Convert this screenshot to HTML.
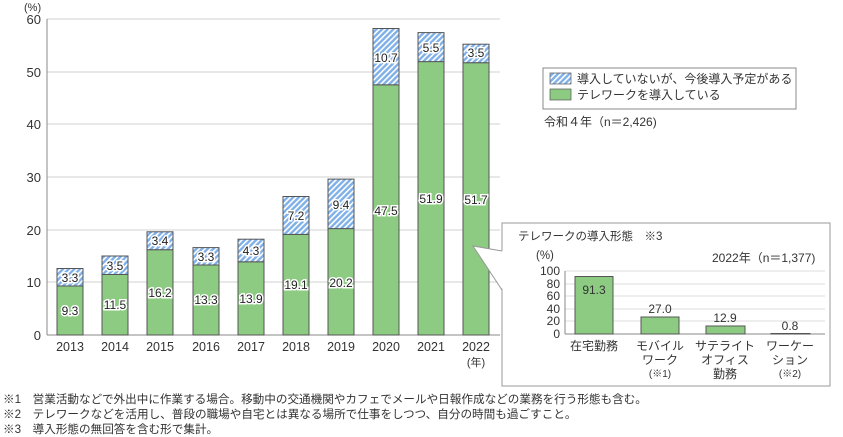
<!DOCTYPE html><html><head><meta charset="utf-8"><style>
body{margin:0;background:#fff}
svg{display:block;font-family:"Liberation Sans","Noto Sans CJK JP",sans-serif}
</style></head><body>
<svg width="843" height="437" viewBox="0 0 843 437" xmlns="http://www.w3.org/2000/svg">
<defs><pattern id="h" width="4" height="4" patternUnits="userSpaceOnUse" patternTransform="rotate(45)"><rect width="4" height="4" fill="#7fb0e8"/><rect width="1.6" height="4" fill="#fff"/></pattern></defs>
<g stroke="#d0d0d0" stroke-width="1">
<line x1="47" y1="19" x2="500" y2="19"/><line x1="47" y1="72" x2="500" y2="72"/><line x1="47" y1="124" x2="500" y2="124"/><line x1="47" y1="177" x2="500" y2="177"/><line x1="47" y1="230" x2="500" y2="230"/><line x1="47" y1="282" x2="500" y2="282"/>
</g>
<line x1="47" y1="19" x2="47" y2="335" stroke="#888"/>
<line x1="47" y1="335" x2="500" y2="335" stroke="#888"/>
<g font-size="13" fill="#333" text-anchor="end">
<text x="41" y="24">60</text><text x="41" y="77">50</text><text x="41" y="129">40</text><text x="41" y="182">30</text><text x="41" y="235">20</text><text x="41" y="287">10</text><text x="41" y="340">0</text></g>
<text x="24" y="11" font-size="11" fill="#333">(%)</text>
<g stroke="#555" stroke-width="1">
<rect x="57" y="286" width="26" height="49" fill="#8dcb83"/><rect x="57" y="268.5" width="26" height="17.5" fill="url(#h)"/>
<rect x="102" y="274.5" width="26" height="60.5" fill="#8dcb83"/><rect x="102" y="256" width="26" height="18.5" fill="url(#h)"/>
<rect x="147" y="249.7" width="26" height="85.3" fill="#8dcb83"/><rect x="147" y="231.8" width="26" height="17.9" fill="url(#h)"/>
<rect x="193" y="265" width="26" height="70" fill="#8dcb83"/><rect x="193" y="247.6" width="26" height="17.4" fill="url(#h)"/>
<rect x="238" y="261.8" width="26" height="73.2" fill="#8dcb83"/><rect x="238" y="239.2" width="26" height="22.6" fill="url(#h)"/>
<rect x="283" y="234.4" width="26" height="100.6" fill="#8dcb83"/><rect x="283" y="196.5" width="26" height="37.9" fill="url(#h)"/>
<rect x="328" y="228.6" width="26" height="106.4" fill="#8dcb83"/><rect x="328" y="179.1" width="26" height="49.5" fill="url(#h)"/>
<rect x="373" y="84.8" width="26" height="250.2" fill="#8dcb83"/><rect x="373" y="28.5" width="26" height="56.3" fill="url(#h)"/>
<rect x="418" y="61.6" width="26" height="273.4" fill="#8dcb83"/><rect x="418" y="32.6" width="26" height="29" fill="url(#h)"/>
<rect x="463" y="62.7" width="26" height="272.3" fill="#8dcb83"/><rect x="463" y="44.2" width="26" height="18.5" fill="url(#h)"/>
</g>
<g font-size="12" fill="#222" text-anchor="middle" stroke="#fff" stroke-width="3" paint-order="stroke">
<text x="70" y="315">9.3</text><text x="70" y="282">3.3</text>
<text x="115" y="309">11.5</text><text x="115" y="270">3.5</text>
<text x="160" y="297">16.2</text><text x="160" y="245">3.4</text>
<text x="206" y="304">13.3</text><text x="206" y="261">3.3</text>
<text x="251" y="303">13.9</text><text x="251" y="255">4.3</text>
<text x="296" y="289">19.1</text><text x="296" y="220">7.2</text>
<text x="341" y="287">20.2</text><text x="341" y="209">9.4</text>
<text x="386" y="215">47.5</text><text x="386" y="62">10.7</text>
<text x="431" y="203">51.9</text><text x="431" y="52">5.5</text>
<text x="476" y="204">51.7</text><text x="476" y="57">3.5</text>
</g>
<g font-size="12.5" fill="#333" text-anchor="middle">
<text x="70" y="351">2013</text><text x="115" y="351">2014</text><text x="160" y="351">2015</text><text x="206" y="351">2016</text><text x="251" y="351">2017</text><text x="296" y="351">2018</text><text x="341" y="351">2019</text><text x="386" y="351">2020</text><text x="431" y="351">2021</text><text x="476" y="351">2022</text>
<text x="476" y="366" font-size="11">(年)</text></g>
<rect x="543" y="68" width="253" height="41" fill="#fff" stroke="#888"/>
<rect x="550" y="73" width="21" height="11" fill="url(#h)" stroke="#555" stroke-width=".7"/>
<rect x="550" y="89" width="21" height="11" fill="#8dcb83" stroke="#555" stroke-width=".7"/>
<g font-size="12" fill="#333"><text x="577" y="83">導入していないが、今後導入予定がある</text><text x="577" y="99">テレワークを導入している</text><text x="544" y="126">令和４年（n＝2,426)</text></g>
<rect x="502" y="223" width="328" height="163" fill="#fff" stroke="#999"/>
<polygon points="473,246 503,251 503,290" fill="#fff"/>
<polyline points="502,251 473,246 502,290" fill="none" stroke="#999"/>
<g stroke="#ddd"><line x1="565" y1="271" x2="825" y2="271"/><line x1="565" y1="284" x2="825" y2="284"/><line x1="565" y1="296" x2="825" y2="296"/><line x1="565" y1="309" x2="825" y2="309"/><line x1="565" y1="321" x2="825" y2="321"/></g>
<line x1="565" y1="271" x2="565" y2="334" stroke="#888"/><line x1="565" y1="334" x2="825" y2="334" stroke="#888"/>
<g stroke="#555" fill="#8dcb83"><rect x="575" y="276.5" width="38" height="57.5"/><rect x="641" y="317" width="38" height="17"/><rect x="706" y="326" width="39" height="8"/><rect x="771" y="333.5" width="39" height=".5"/></g>
<g font-size="12" fill="#333" text-anchor="end"><text x="560" y="275">100</text><text x="560" y="288">80</text><text x="560" y="300">60</text><text x="560" y="313">40</text><text x="560" y="325">20</text><text x="560" y="338">0</text></g>
<g font-size="11.5" fill="#333"><text x="518" y="240">テレワークの導入形態　※3</text><text x="536" y="259">(%)</text><text x="712" y="262" font-size="12">2022年（n＝1,377)</text></g>
<g font-size="12" fill="#333" text-anchor="middle">
<text x="594" y="294">91.3</text><text x="660" y="313">27.0</text><text x="725" y="322">12.9</text><text x="790" y="330">0.8</text>
<text x="594" y="350">在宅勤務</text><text x="660" y="350">モバイル</text><text x="660" y="364">ワーク</text><text x="660" y="377" font-size="10">(※1)</text>
<text x="725" y="350">サテライト</text><text x="725" y="364">オフィス</text><text x="725" y="378">勤務</text>
<text x="790" y="350">ワーケー</text><text x="790" y="364">ション</text><text x="790" y="377" font-size="10">(※2)</text></g>
<g font-size="11.6" fill="#333"><text x="3" y="403">※1　営業活動などで外出中に作業する場合。移動中の交通機関やカフェでメールや日報作成などの業務を行う形態も含む。</text>
<text x="3" y="418">※2　テレワークなどを活用し、普段の職場や自宅とは異なる場所で仕事をしつつ、自分の時間も過ごすこと。</text>
<text x="3" y="433">※3　導入形態の無回答を含む形で集計。</text></g>
</svg></body></html>
